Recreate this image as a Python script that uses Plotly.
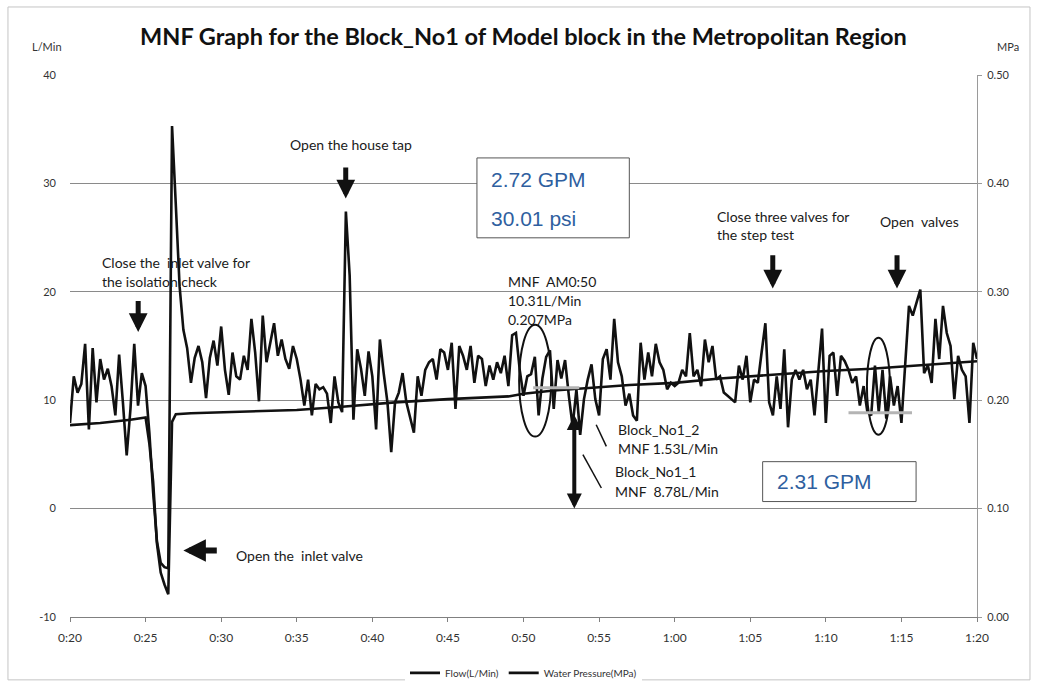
import numpy as np
import plotly.graph_objects as go

# ---------------- data ----------------
# Flow logged every 15 s from 0:20 to 1:20 (minutes after midnight offset)
flow_lpm = [
    7.9, 12.2, 10.7, 11.5,      # 0:20
    15.2, 7.3, 14.8, 9.8,       # 0:21
    13.8, 11.9, 12.9, 11.3,     # 0:22
    8.6, 14.2, 9.8, 4.9,        # 0:23
    9.2, 15.2, 9.5, 12.5,       # 0:24
    11.3, 7.0, 1.5, -3.0,       # 0:25
    -5.0, -5.4, -5.5, 35.3,     # 0:26
    28.0, 20.5, 16.5, 14.8,     # 0:27
    11.6, 13.9, 15.0, 13.5,     # 0:28
    10.2, 13.9, 15.5, 13.2,     # 0:29
    16.8, 12.8, 10.5, 14.4,     # 0:30
    12.2, 11.9, 14.1, 12.8,     # 0:31
    17.5, 14.4, 9.9, 17.8,      # 0:32
    13.5, 15.5, 17.1, 14.1,     # 0:33
    15.6, 13.8, 12.9, 15.0,     # 0:34
    13.8, 11.9, 9.5, 11.9,      # 0:35
    8.6, 11.5, 11.0, 11.2,      # 0:36
    10.6, 7.9, 12.2, 9.8,       # 0:37
    8.9, 27.4, 21.5, 8.2,       # 0:38
    14.7, 12.9, 10.4, 14.5,     # 0:39
    12.2, 7.3, 15.6, 12.5,      # 0:40
    9.8, 5.2, 9.8, 10.7,        # 0:41
    12.5, 9.8, 8.3, 7.0,        # 0:42
    12.2, 10.4, 12.8, 13.5,     # 0:43
    13.8, 11.9, 14.7, 14.4,     # 0:44
    12.8, 15.3, 9.2, 15.0,      # 0:45
    14.1, 12.8, 15.0, 11.6,     # 0:46
    14.1, 13.8, 11.3, 13.2,     # 0:47
    11.9, 13.5, 12.5, 14.1,     # 0:48
    11.3, 16.0, 16.2, 12.8,     # 0:49
    10.4, 12.2, 12.4, 14.0,     # 0:50
    8.6, 12.0, 14.0, 14.6,      # 0:51
    9.2, 13.7, 12.0, 13.7,      # 0:52
    10.4, 7.6, 11.0, 6.8,       # 0:53
    10.1, 11.9, 13.3, 10.1,     # 0:54
    8.6, 13.8, 14.7, 11.9,      # 0:55
    17.5, 13.5, 12.2, 9.5,      # 0:56
    10.6, 8.6, 8.1, 15.3,       # 0:57
    11.9, 14.4, 12.2, 15.2,     # 0:58
    13.5, 12.8, 11.0, 11.6,     # 0:59
    11.3, 11.6, 12.8, 12.2,     # 1:00
    16.2, 12.2, 12.8, 11.3,     # 1:01
    15.6, 13.5, 15.0, 11.9,     # 1:02
    12.2, 10.7, 10.4, 10.1,     # 1:03
    9.8, 13.2, 11.9, 14.1,      # 1:04
    9.8, 11.9, 11.6, 14.4,      # 1:05
    17.1, 9.8, 8.6, 12.2,       # 1:06
    9.2, 14.7, 7.5, 11.9,       # 1:07
    12.8, 11.9, 12.8, 11.0,     # 1:08
    11.9, 8.6, 12.8, 16.6,      # 1:09
    7.9, 14.1, 14.4, 10.4,      # 1:10
    14.1, 13.6, 12.8, 11.6,     # 1:11
    12.2, 9.5, 11.3, 8.9,       # 1:12
    8.6, 13.2, 8.9, 12.8,       # 1:13
    8.3, 12.2, 9.5, 11.3,       # 1:14
    7.9, 13.5, 18.7, 17.8,      # 1:15
    19.0, 20.2, 12.5, 13.2,     # 1:16
    11.6, 17.5, 13.8, 18.7,     # 1:17
    16.2, 15.0, 10.1, 14.1,     # 1:18
    12.8, 12.2, 7.9, 15.3,      # 1:19
    13.8,                       # 1:20
]
flow_time_min = 20 + 0.25 * np.arange(len(flow_lpm))

# Water pressure (MPa), sampled at the listed times (minutes)
pressure_time_min = [20, 22, 24, 25, 25.25, 25.5, 25.75, 26.0, 26.25, 26.5, 26.75,
                     27, 28, 30, 32.5, 35, 38, 41.5, 45, 49, 50, 50.8, 52, 55, 57,
                     60, 63, 66, 70, 73, 77, 80]
pressure_mpa = [0.177, 0.179, 0.182, 0.184, 0.160, 0.125, 0.068, 0.041, 0.030, 0.021, 0.180,
                0.187, 0.188, 0.189, 0.190, 0.191, 0.194, 0.198, 0.201, 0.2035, 0.206, 0.207,
                0.209, 0.212, 0.214, 0.216, 0.220, 0.223, 0.227, 0.229, 0.233, 0.236]

time_tick_vals = [20, 25, 30, 35, 40, 45, 50, 55, 60, 65, 70, 75, 80]
time_tick_labels = ["0:20", "0:25", "0:30", "0:35", "0:40", "0:45", "0:50",
                    "0:55", "1:00", "1:05", "1:10", "1:15", "1:20"]
flow_tick_vals = [-10, 0, 10, 20, 30, 40]
flow_tick_labels = ["-10", "0", "10", "20", "30", "40"]

# ---------------- figure ----------------
TXT = "Lato, 'Open Sans', sans-serif"
BLUE = "#2f5f9f"
NOTE = 14

fig = go.Figure()
fig.add_trace(go.Scatter(x=flow_time_min, y=flow_lpm, mode="lines",
                         name="Flow(L/Min)", line=dict(color="#111111", width=2.6)))
fig.add_trace(go.Scatter(x=pressure_time_min, y=pressure_mpa, mode="lines",
                         name="Water Pressure(MPa)", yaxis="y2",
                         line=dict(color="#111111", width=2.6)))

annotations = []


def label(x, y, text, size=NOTE, color="#1a1a1a", family=TXT, anchor="left"):
    annotations.append(dict(x=x, y=y, xref="x", yref="y", text=text, showarrow=False,
                            xanchor=anchor, yanchor="middle",
                            font=dict(size=size, color=color, family=family)))


def block_arrow(x, y, ax, ay, width=5, side="end"):
    annotations.append(dict(x=x, y=y, ax=ax, ay=ay, xref="x", yref="y",
                            axref="x", ayref="y", text="", showarrow=True,
                            arrowhead=2, arrowsize=0.75, arrowwidth=width,
                            arrowcolor="#111111", arrowside=side))


# event notes
label(21.99, 22.67, "Close the  inlet valve for")
label(21.99, 20.92, "the isolation check")
block_arrow(24.51, 16.3, 24.51, 19.3)

label(34.39, 33.55, "Open the house tap")
block_arrow(38.24, 28.6, 38.24, 31.6)

label(30.88, -4.33, "Open the  inlet valve")
block_arrow(27.5, -3.87, 29.81, -3.87, width=6)

label(48.85, 20.92, "MNF  AM0:50")
label(48.85, 19.17, "10.31L/Min")
label(48.85, 17.42, "0.207MPa")

label(56.14, 7.28, "Block_No1_2")
label(56.14, 5.53, "MNF 1.53L/Min")
label(55.94, 3.41, "Block_No1_1")
label(55.94, 1.57, "MNF  8.78L/Min")
block_arrow(53.36, 0.0, 53.36, 8.78, width=4, side="end+start")

label(62.64, 26.91, "Close three valves for")
label(62.64, 25.25, "the step test")
block_arrow(66.49, 20.3, 66.49, 23.5)

label(73.45, 26.45, "Open  valves")
block_arrow(74.71, 20.3, 74.71, 23.5)

# converted readings in boxes
label(47.72, 30.32, "2.72 GPM", size=21, color=BLUE, family="Liberation Sans, Arial")
label(47.72, 26.73, "30.01 psi", size=21, color=BLUE, family="Liberation Sans, Arial")
label(66.62, 2.49, "2.31 GPM", size=21, color=BLUE, family="Liberation Sans, Arial")

# axis unit captions
annotations.append(dict(x=-0.025, y=1.052, xref="paper", yref="paper", text="L/Min",
                        showarrow=False, xanchor="center", yanchor="middle",
                        font=dict(size=11, color="#333", family=TXT)))
annotations.append(dict(x=1.034, y=1.052, xref="paper", yref="paper", text="MPa",
                        showarrow=False, xanchor="center", yanchor="middle",
                        font=dict(size=11, color="#333", family=TXT)))

shapes = [
    # outer chart frame
    dict(type="rect", xref="paper", yref="paper", x0=-0.0684, x1=1.0584, y0=-0.116, y1=1.1255,
         line=dict(color="#c4c4c4", width=1), fillcolor="rgba(0,0,0,0)", layer="below"),
    # value boxes
    dict(type="rect", xref="x", yref="y", x0=46.92, x1=57.0, y0=24.98, y1=32.35,
         line=dict(color="#555", width=1), fillcolor="white"),
    dict(type="rect", xref="x", yref="y", x0=65.82, x1=75.97, y0=0.65, y1=4.33,
         line=dict(color="#555", width=1), fillcolor="white"),
    # circled minimum-night-flow windows
    dict(type="circle", xref="x", yref="y", x0=49.71, x1=51.83, y0=6.64, y1=16.96,
         line=dict(color="#111", width=2)),
    dict(type="circle", xref="x", yref="y", x0=72.72, x1=74.24, y0=6.82, y1=15.76,
         line=dict(color="#111", width=2)),
    # MNF level marks
    dict(type="line", xref="x", yref="y", x0=50.64, x1=53.69, y0=11.15, y1=11.15,
         line=dict(color="#b4b4b4", width=3)),
    dict(type="line", xref="x", yref="y", x0=71.5, x1=75.7, y0=8.85, y1=8.85,
         line=dict(color="#b4b4b4", width=3)),
    # leader lines for the block notes
    dict(type="line", xref="x", yref="y", x0=54.81, y0=7.74, x1=55.48, y1=5.74,
         line=dict(color="#111", width=1.5)),
    dict(type="line", xref="x", yref="y", x0=53.93, y0=4.98, x1=55.15, y1=1.9,
         line=dict(color="#111", width=1.5)),
]

fig.update_layout(
    width=1038, height=687,
    margin=dict(l=70, r=61, t=75, b=70, autoexpand=False),
    paper_bgcolor="white", plot_bgcolor="white",
    title=dict(text="<b>MNF Graph for the Block_No1 of Model block in the Metropolitan Region</b>",
               x=0.5, xref="paper", xanchor="center", y=0.946, yanchor="middle",
               font=dict(size=23.5, color="#111", family=TXT)),
    font=dict(family=TXT, color="#333"),
    xaxis=dict(range=[20, 80], tickvals=time_tick_vals, ticktext=time_tick_labels,
               showgrid=False, zeroline=False, showline=True, linecolor="#808080",
               linewidth=1, ticks="outside", ticklen=4, tickcolor="#808080",
               tickfont=dict(size=12, color="#333"), ticklabelstandoff=6,
               automargin=False),
    yaxis=dict(range=[-10, 40], tickvals=flow_tick_vals, ticktext=flow_tick_labels,
               showgrid=True, gridcolor="#8a8a8a",
               gridwidth=1.2, zeroline=False, showline=False, ticks="",
               tickfont=dict(size=11, color="#333"), ticklabelstandoff=13,
               automargin=False),
    yaxis2=dict(range=[0, 0.5], dtick=0.1, tickformat=".2f", overlaying="y", side="right",
                showgrid=False, zeroline=False, showline=True, linecolor="#9a9a9a",
                ticks="outside", ticklen=4, tickcolor="#9a9a9a",
                tickfont=dict(size=11, color="#333"), ticklabelstandoff=3,
                automargin=False),
    legend=dict(orientation="h", x=0.5, xanchor="center", y=-0.103, yanchor="middle",
                font=dict(size=10, color="#333", family=TXT), itemwidth=30),
    annotations=annotations,
    shapes=shapes,
)

fig.write_html("out.html")
